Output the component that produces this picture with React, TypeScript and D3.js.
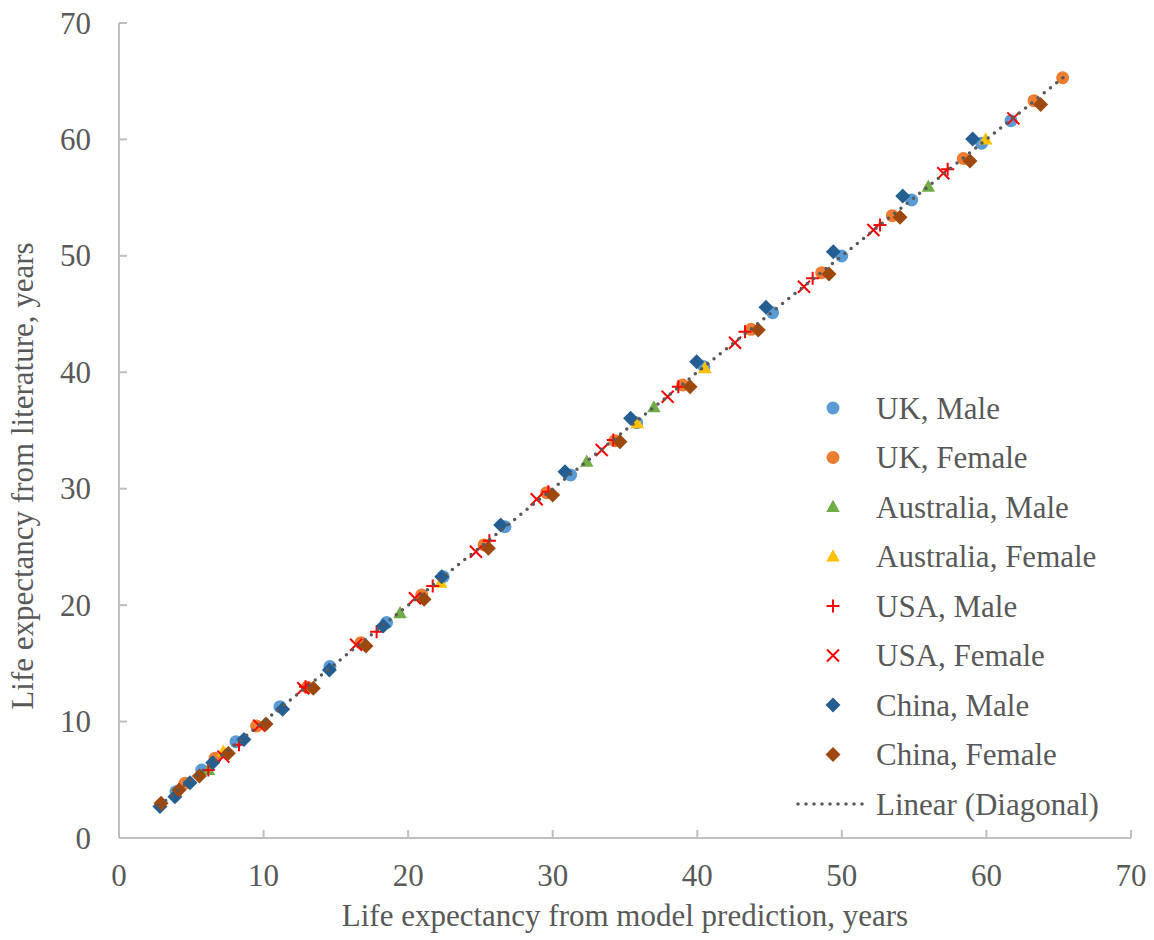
import React from "react";
import * as d3 from "d3";

// ---- data (x = model prediction, y = literature) ----
const ukMale: [number, number][] = [
  [3.94, 3.98], [5.72, 5.84], [8.09, 8.27], [11.13, 11.28], [14.59, 14.72], [18.51, 18.5],
  [22.43, 22.44], [26.7, 26.74], [31.24, 31.18], [35.81, 35.67], [40.46, 40.48], [45.21, 45.12],
  [49.99, 49.99], [54.83, 54.8], [59.67, 59.67], [61.7, 61.61],
];
const ukFemale: [number, number][] = [
  [4.56, 4.7], [6.64, 6.85], [9.52, 9.62], [13.02, 12.95], [16.74, 16.78], [20.94, 20.87],
  [25.25, 25.17], [29.58, 29.66], [34.31, 34.13], [38.99, 38.91], [43.72, 43.69], [48.6, 48.55],
  [53.49, 53.45], [58.4, 58.36], [63.29, 63.33], [65.27, 65.3],
];
const ausMale: [number, number][] = [
  [6.18, 5.85], [19.44, 19.3], [32.35, 32.32], [37.0, 36.99], [55.98, 55.94],
];
const ausFemale: [number, number][] = [
  [7.22, 7.42], [22.25, 21.93], [35.85, 35.62], [40.53, 40.34], [59.95, 60.0],
];
const usaMale: [number, number][] = [
  [6.18, 5.84], [8.3, 8.0], [12.9, 13.0], [17.82, 17.72], [21.7, 21.64], [25.62, 25.54],
  [29.7, 29.75], [34.19, 34.18], [38.69, 38.76], [43.3, 43.49], [47.98, 48.07], [52.64, 52.65],
  [57.32, 57.43],
];
const usaFemale: [number, number][] = [
  [7.22, 6.99], [9.7, 9.65], [12.75, 12.86], [16.4, 16.6], [20.47, 20.59], [24.69, 24.59],
  [28.89, 29.09], [33.39, 33.32], [37.95, 37.9], [42.61, 42.54], [47.38, 47.35], [52.18, 52.22],
  [57.02, 57.09], [61.86, 61.81],
];
const chinaMale: [number, number][] = [
  [2.83, 2.7], [3.87, 3.55], [4.91, 4.75], [6.48, 6.47], [8.64, 8.46], [11.32, 11.05],
  [14.55, 14.43], [18.28, 18.2], [22.32, 22.44], [26.4, 26.88], [30.85, 31.46], [35.39, 36.05],
  [39.96, 40.91], [44.75, 45.58], [49.41, 50.36], [54.21, 55.14], [59.05, 60.04],
];
const chinaFemale: [number, number][] = [
  [2.91, 2.98], [4.15, 4.12], [5.56, 5.33], [7.56, 7.28], [10.17, 9.79], [13.44, 12.86],
  [17.08, 16.49], [21.1, 20.5], [25.55, 24.88], [30.0, 29.46], [34.65, 34.04], [39.5, 38.76],
  [44.22, 43.63], [49.11, 48.44], [54.02, 53.31], [58.86, 58.15], [63.75, 63.01],
];
const diagonalRange = [2.8, 65.3];
const ticks = [0, 10, 20, 30, 40, 50, 60, 70];

type Shape = "circle" | "triangle" | "plus" | "cross" | "diamond";
const series: { name: string; data: [number, number][]; color: string; shape: Shape }[] = [
  { name: "UK, Male", data: ukMale, color: "#5B9BD5", shape: "circle" },
  { name: "UK, Female", data: ukFemale, color: "#ED7D31", shape: "circle" },
  { name: "Australia, Male", data: ausMale, color: "#70AD47", shape: "triangle" },
  { name: "Australia, Female", data: ausFemale, color: "#FFC000", shape: "triangle" },
  { name: "USA, Male", data: usaMale, color: "#FF0000", shape: "plus" },
  { name: "USA, Female", data: usaFemale, color: "#FF0000", shape: "cross" },
  { name: "China, Male", data: chinaMale, color: "#255E91", shape: "diamond" },
  { name: "China, Female", data: chinaFemale, color: "#9E480E", shape: "diamond" },
];

const FONT = "'Liberation Serif', 'Times New Roman', serif";
const TEXT = "#595959";
const AXIS = "#BFBFBF";

function Marker({ shape, color, cx, cy }: { shape: Shape; color: string; cx: number; cy: number }) {
  switch (shape) {
    case "circle":
      return <circle cx={cx} cy={cy} r={6.5} fill={color} />;
    case "triangle":
      return (
        <path
          d={`M${cx},${cy - 7.2} L${cx + 6.8},${cy + 5} L${cx - 6.8},${cy + 5} Z`}
          fill={color}
        />
      );
    case "diamond":
      return (
        <path
          d={`M${cx},${cy - 7.5} L${cx + 7.5},${cy} L${cx},${cy + 7.5} L${cx - 7.5},${cy} Z`}
          fill={color}
        />
      );
    case "plus":
      return (
        <path
          d={`M${cx - 6.5},${cy} H${cx + 6.5} M${cx},${cy - 6.5} V${cy + 6.5}`}
          stroke={color}
          strokeWidth={2}
          fill="none"
        />
      );
    case "cross":
      return (
        <path
          d={`M${cx - 6},${cy - 6} L${cx + 6},${cy + 6} M${cx - 6},${cy + 6} L${cx + 6},${cy - 6}`}
          stroke={color}
          strokeWidth={2}
          fill="none"
        />
      );
  }
}

export default function App() {
  const W = 1154;
  const H = 940;
  const left = 119, right = 1131, top = 23, bottom = 838;
  const x = d3.scaleLinear().domain([0, 70]).range([left, right]);
  const y = d3.scaleLinear().domain([0, 70]).range([bottom, top]);
  const trend = d3.line<number>().x((v) => x(v)).y((v) => y(v))(diagonalRange) || "";

  const legendX = 833;
  const legendTextX = 876;
  const legendY0 = 408;
  const legendStep = 49.5;

  return (
    <svg
      width={W}
      height={H}
      style={{ position: "absolute", left: 0, top: 0, background: "#fff" }}
      fontFamily={FONT}
    >
      <rect x={0} y={0} width={W} height={H} fill="#fff" />
      {/* axes */}
      <line x1={left} x2={left} y1={top} y2={bottom} stroke={AXIS} strokeWidth={2} />
      <line x1={left} x2={right} y1={bottom} y2={bottom} stroke={AXIS} strokeWidth={2} />
      {ticks.map((t) => (
        <g key={"xt" + t}>
          <line x1={x(t)} x2={x(t)} y1={bottom} y2={bottom - 8} stroke={AXIS} strokeWidth={2} />
          <text x={x(t)} y={886} textAnchor="middle" fontSize={31} fill={TEXT}>
            {t}
          </text>
        </g>
      ))}
      {ticks.map((t) => (
        <g key={"yt" + t}>
          <line x1={left} x2={left + 8} y1={y(t)} y2={y(t)} stroke={AXIS} strokeWidth={2} />
          <text x={91} y={y(t) + 10.5} textAnchor="end" fontSize={31} fill={TEXT}>
            {t}
          </text>
        </g>
      ))}
      {/* axis titles */}
      <text x={(left + right) / 2} y={926} textAnchor="middle" fontSize={31} fill={TEXT}>
        Life expectancy from model prediction, years
      </text>
      <text
        transform={`translate(33,476) rotate(-90)`}
        textAnchor="middle"
        fontSize={31}
        fill={TEXT}
      >
        Life expectancy from literature, years
      </text>
      {/* points */}
      {series.map((s) => (
        <g key={s.name}>
          {s.data.map((d, i) => (
            <Marker key={i} shape={s.shape} color={s.color} cx={x(d[0])} cy={y(d[1])} />
          ))}
        </g>
      ))}
      {/* trendline */}
      <path
        d={trend}
        stroke={TEXT}
        strokeWidth={3.5}
        strokeDasharray="0 8"
        strokeLinecap="round"
        fill="none"
      />
      {/* legend */}
      {series.map((s, i) => (
        <g key={"lg" + s.name}>
          <Marker shape={s.shape} color={s.color} cx={legendX} cy={legendY0 + i * legendStep} />
          <text x={legendTextX} y={legendY0 + i * legendStep + 10.5} fontSize={31} fill={TEXT}>
            {s.name}
          </text>
        </g>
      ))}
      <line
        x1={798}
        x2={868}
        y1={legendY0 + 8 * legendStep}
        y2={legendY0 + 8 * legendStep}
        stroke={TEXT}
        strokeWidth={3.5}
        strokeDasharray="0 8"
        strokeLinecap="round"
      />
      <text x={legendTextX} y={legendY0 + 8 * legendStep + 10.5} fontSize={31} fill={TEXT}>
        Linear (Diagonal)
      </text>
    </svg>
  );
}
